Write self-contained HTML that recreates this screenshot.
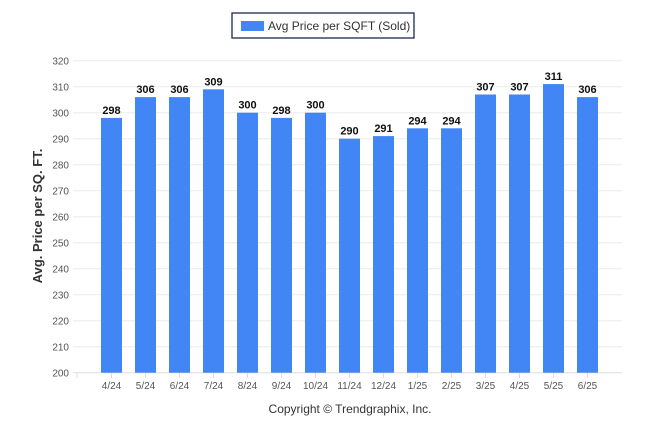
<!DOCTYPE html>
<html><head><meta charset="utf-8"><style>
body{margin:0;background:#fff;width:646px;height:434px;overflow:hidden;font-family:"Liberation Sans",sans-serif}
</style></head><body>
<svg width="646" height="434" xmlns="http://www.w3.org/2000/svg">
<rect x="232" y="13" width="182" height="25" fill="#fff" stroke="#1a2a4a" stroke-width="1.3"/>
<rect x="241" y="21" width="23" height="10" fill="#4285f4"/>
<text x="268" y="30" font-size="12" fill="#333">Avg Price per SQFT (Sold)</text>
<g id="grid"></g><g id="bars"></g>
<text transform="translate(42,216) rotate(-90)" text-anchor="middle" font-size="13" font-weight="bold" fill="#333">Avg. Price per SQ. FT.</text>
<text x="350" y="413" text-anchor="middle" font-size="12" fill="#333">Copyright © Trendgraphix, Inc.</text>
</svg>
<script>
const categories=["4/24","5/24","6/24","7/24","8/24","9/24","10/24","11/24","12/24","1/25","2/25","3/25","4/25","5/25","6/25"];
const values=[298,306,306,309,300,298,300,290,291,294,294,307,307,311,306];
const yTicks=[200,210,220,230,240,250,260,270,280,290,300,310,320];
const NS="http://www.w3.org/2000/svg";
const y=v=>372.7-(v-200)*2.6;
const x=i=>111.5+i*34;
function mk(t,a,p){const e=document.createElementNS(NS,t);for(const k in a)e.setAttribute(k,a[k]);p.appendChild(e);return e;}
const g=document.getElementById('grid'),b=document.getElementById('bars');
yTicks.forEach(v=>{
 const l=mk('line',{x1:73,x2:622,y1:y(v),y2:y(v),stroke:v===200?'#ddd':'#ececec'},g);
 
 
 const t=mk('text',{x:69,y:y(v)+4,'text-anchor':'end','font-size':10,fill:'#555'},g);
 t.textContent=v;
 
 
});
const tk=mk('line',{x1:77,x2:77,y1:373,y2:378,stroke:'#ddd'},g);


categories.forEach((c,i)=>{
 const r=mk('rect',{x:x(i)-10.5,y:y(values[i]),width:21,height:372.7-y(values[i]),fill:'#4285f4'},b);
 
 
 const v=mk('text',{x:x(i),y:y(values[i])-4,'text-anchor':'middle','font-size':11,'font-weight':'bold',fill:'#111'},b);
 v.textContent=values[i];
 
 
 const t=mk('text',{x:x(i),y:389,'text-anchor':'middle','font-size':10,fill:'#555'},b);
 t.textContent=c;
 
 
 const k=mk('line',{x1:x(i),x2:x(i),y1:373,y2:378,stroke:'#ddd'},b);
 
 
});
</script>
</body></html>
